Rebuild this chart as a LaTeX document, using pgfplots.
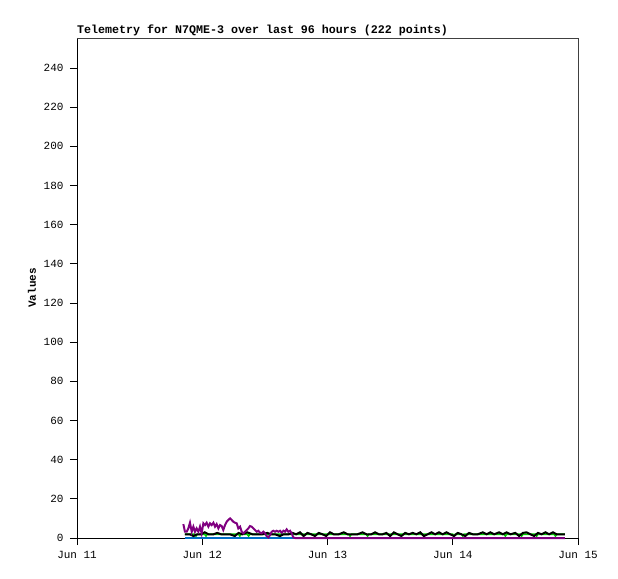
\documentclass[border=0pt]{standalone}
\usepackage{fontspec}
\setmainfont{Liberation Mono}
\usepackage{pgfplots}
\pgfplotsset{compat=1.18}

\definecolor{tpurple}{RGB}{128,0,128}
\definecolor{tblue}{RGB}{0,110,200}
\definecolor{tgreen}{RGB}{0,200,0}

\begin{document}
\begin{tikzpicture}
\begin{axis}[
    at={(0,0)}, anchor=south west,
    scale only axis,
    width=501bp, height=500bp,
    xmin=0, xmax=4, ymin=0, ymax=255.3,
    xtick={0,1,2,3,4},
    xticklabels={Jun 11,Jun 12,Jun 13,Jun 14,Jun 15},
    ytick={0,20,...,240},
    tick align=outside,
    major tick length=7bp,
    xtick pos=bottom, ytick pos=left,
    axis line style={draw=none},
    tick style={black, line width=0.8bp},
    ticklabel style={font=\fontsize{11}{13}\selectfont},
    yticklabel style={xshift=-3bp},
    xticklabel style={yshift=-3bp},
    /pgf/number format/assume math mode=true,
    clip=false,
]
% frame
\draw[black, line width=0.8bp] (rel axis cs:0,1) -- (rel axis cs:0,0) -- (rel axis cs:1,0);
\draw[black!75, line width=0.8bp] (rel axis cs:0,1) -- (rel axis cs:1,1) -- (rel axis cs:1,0);
\node[anchor=base west, font=\bfseries\fontsize{11.7}{13}\selectfont, inner sep=0pt]
    at ([yshift=4bp]rel axis cs:0,1) {Telemetry for N7QME-3 over last 96 hours (222 points)};
\node[rotate=90, font=\bfseries\fontsize{11}{13}\selectfont, inner sep=0pt]
    at ([xshift=-45bp]rel axis cs:0,0.5) {Values};

\addplot[tblue, line width=2.4bp] coordinates {(0.862,0) (1.74,0)};

\addplot[tgreen, line width=1.6bp] coordinates {
(0.862,1.9) (0.94,1.9) (0.95,1.0) (0.96,1.9) (1.02,1.9) (1.03,1.0) (1.04,1.9)
(1.29,1.9) (1.30,1.0) (1.31,1.9) (1.36,1.9) (1.37,1.0) (1.38,1.9)
(2.17,1.9) (2.18,1.0) (2.19,1.9) (2.31,1.9) (2.32,1.0) (2.33,1.9)
(3.00,1.9) (3.01,1.0) (3.02,1.9) (3.07,1.9) (3.08,1.0) (3.09,1.9)
(3.41,1.9) (3.42,1.0) (3.43,1.9) (3.54,1.9) (3.55,1.0) (3.56,1.9)
(3.66,1.9) (3.67,1.0) (3.68,1.9) (3.81,1.9) (3.82,1.0) (3.83,1.9) (3.896,1.9)
};

\addplot[black, line width=2bp] coordinates {
(0.862,1.9) (0.90,1.9) (0.93,1.0) (0.96,1.9) (0.99,1.9) (1.02,2.9) (1.05,1.9)
(1.09,1.9) (1.12,2.6) (1.15,1.9) (1.19,1.9) (1.22,1.9) (1.26,1.0) (1.29,2.6)
(1.32,1.9) (1.36,2.9) (1.40,1.9) (1.44,1.9) (1.48,1.9) (1.52,2.6) (1.55,1.9)
(1.58,1.9) (1.62,1.0) (1.65,1.9) (1.69,1.9) (1.72,2.6) (1.75,1.9) (1.78,2.9)
(1.81,1.0) (1.84,2.6) (1.87,1.9) (1.90,1.0) (1.93,2.6) (1.96,1.9) (1.99,1.0)
(2.02,2.9) (2.05,1.9) (2.09,1.9) (2.13,2.9) (2.16,1.9) (2.20,1.9) (2.24,1.9)
(2.28,2.9) (2.31,1.9) (2.35,1.9) (2.38,2.9) (2.41,1.9) (2.44,1.9) (2.47,2.6)
(2.50,1.0) (2.53,2.9) (2.56,1.9) (2.59,1.0) (2.62,2.6) (2.65,1.9) (2.68,2.6)
(2.71,1.9) (2.74,2.9) (2.77,1.0) (2.80,1.9) (2.83,2.9) (2.86,1.9) (2.89,2.9)
(2.92,1.9) (2.95,2.9) (2.98,1.9) (3.01,1.0) (3.04,2.6) (3.07,1.9) (3.10,1.0)
(3.13,2.6) (3.16,1.9) (3.20,1.9) (3.24,2.9) (3.27,1.9) (3.30,2.9) (3.33,1.9)
(3.37,2.9) (3.40,1.9) (3.43,2.9) (3.46,1.9) (3.50,2.6) (3.53,1.0) (3.56,2.6)
(3.59,2.9) (3.62,1.9) (3.65,1.0) (3.68,2.6) (3.71,1.9) (3.74,2.9) (3.77,1.9)
(3.80,2.9) (3.83,1.9) (3.86,1.9) (3.896,1.9)
};

\addplot[tpurple, line width=2bp] coordinates {
(0.849,7.1) (0.862,3.2) (0.876,3.2) (0.889,4.9) (0.902,7.8) (0.916,3.2) (0.929,5.8)
(0.942,3.2) (0.955,4.9) (0.969,3.2) (0.982,5.8) (0.995,2.4) (1.009,7.5) (1.022,6.6)
(1.035,7.8) (1.049,5.8) (1.062,7.5) (1.075,6.6) (1.089,7.8) (1.102,5.8) (1.115,7.1)
(1.129,4.9) (1.142,6.6) (1.155,6.1) (1.168,4.1) (1.182,6.6) (1.195,8.3) (1.208,9.2)
(1.222,10.0) (1.235,9.2) (1.248,8.3) (1.262,7.8) (1.275,7.5) (1.288,4.9) (1.302,5.8)
(1.315,3.2) (1.328,2.4) (1.341,3.2) (1.355,4.1) (1.368,4.9) (1.381,6.1) (1.395,5.8)
(1.408,4.9) (1.421,4.1) (1.435,3.2) (1.448,3.7) (1.461,2.7) (1.475,2.4) (1.488,3.2)
(1.501,2.4) (1.514,1.0) (1.528,0.3) (1.541,1.5) (1.554,3.2) (1.568,3.7) (1.581,3.2)
(1.594,3.7) (1.608,3.2) (1.621,3.7) (1.634,2.7) (1.648,3.7) (1.661,3.2) (1.674,4.4)
(1.687,3.2) (1.701,3.7) (1.714,2.4) (1.727,0.3) (1.74,0) (3.896,0)
};
\end{axis}
\path[use as bounding box] (-77bp,-41bp) rectangle (541bp,538bp);
\end{tikzpicture}
\end{document}
